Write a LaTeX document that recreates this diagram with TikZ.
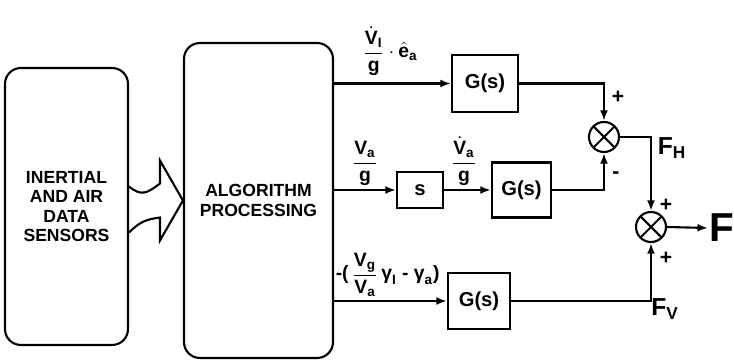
\documentclass[tikz,border=0pt]{standalone}
\usepackage{fontspec}
\setmainfont{Liberation Sans}
\usepackage{amsmath}
\usetikzlibrary{arrows.meta, calc}

\tikzset{
  unit/.style={draw, rounded corners=9pt, align=center, inner sep=0pt, font=\bfseries\fontsize{10}{11}\selectfont},
  blk/.style={draw, inner sep=0pt, font=\bfseries\fontsize{11.5}{13}\selectfont},
  sumj/.style={draw, circle, minimum size=0.6cm, inner sep=0pt,
    path picture={\draw (path picture bounding box.north west) -- (path picture bounding box.south east)
                        (path picture bounding box.north east) -- (path picture bounding box.south west);}},
  sig/.style={-{Latex[length=6pt,width=4.5pt]}},
  lbl/.style={inner sep=1pt, font=\bfseries\fontsize{11}{12}\selectfont},
  sgn/.style={inner sep=0pt, font=\bfseries\fontsize{12}{12}\selectfont},
}

\begin{document}
\begin{tikzpicture}[x=0.02cm, y=-0.02cm, line width=1.2pt]
  \useasboundingbox (0,0) rectangle (734,364);
  % sensors and processing
  \node[unit, minimum width=2.46cm, minimum height=5.54cm] (sen) at (66.5,206.5) {INERTIAL\\AND AIR\\DATA\\SENSORS};
  \node[unit, minimum width=2.98cm, minimum height=6.3cm] (alg) at (258.5,200.5) {ALGORITHM\\PROCESSING};
  \draw ($(sen.east)+(0,-20)$) .. controls ($(sen.east)+(12,-10)$) and ($(sen.east)+(18,-13)$) .. ($(alg.west)+(-23,-17)$)
        -- ($(alg.west)+(-23,-40)$) -- (alg.west) -- ($(alg.west)+(-23,40)$) -- ($(alg.west)+(-23,17)$)
        .. controls ($(sen.east)+(18,13)$) and ($(sen.east)+(12,14)$) .. ($(sen.east)+(0,26)$);

  % blocks
  \node[blk, minimum width=1.32cm, minimum height=1.14cm] (g1) at (485,83.5) {G(s)};
  \node[blk, minimum width=0.92cm, minimum height=0.72cm] (sbox) at (420,190) {s};
  \node[blk, minimum width=1.18cm, minimum height=1.1cm] (g2) at (521.5,190) {G(s)};
  \node[blk, minimum width=1.24cm, minimum height=1.12cm] (g3) at (479,301) {G(s)};
  \node[sumj] (s1) at (604,137) {};
  \node[sumj] (s2) at (651,227) {};
  \node[inner sep=0pt, anchor=west, font=\bfseries\fontsize{23}{23}\selectfont] (out) at (708,228) {F};

  % signals
  \draw[sig] (alg.east |- g1.west) -- (g1.west);
  \draw[sig] (alg.east |- sbox.west) -- (sbox.west);
  \draw[sig] (sbox.east) -- (g2.west);
  \draw[sig] (alg.east |- g3.west) -- (g3.west);
  \draw[sig] (g1.east) -| (s1.north);
  \draw[sig] (g2.east) -| (s1.south);
  \draw[sig] (s1.east) -| (s2.north);
  \draw[sig] (g3.east) -| (s2.south);
  \draw[sig] (s2.east) -- (out.west);

  % labels
  \node[lbl, anchor=south west] (lv) at (360,78) {$\dfrac{\dot{\text{V}}_{\text{I}}}{\text{g}}\cdot\hat{\text{e}}_{\text{a}}$};
  \node[lbl, anchor=south] (lva) at (365,188) {$\dfrac{\text{V}_{\text{a}}}{\text{g}}$};
  \node[lbl, anchor=south] (lvd) at (464,188) {$\dfrac{\dot{\text{V}}_{\text{a}}}{\text{g}}$};
  \node[lbl, anchor=south west] (lgam) at (333,299) {$\text{-(}\,\dfrac{\text{V}_{\text{g}}}{\text{V}_{\text{a}}}\,\text{γ}_{\text{I}}\text{ - }\text{γ}_{\text{a}}\text{)}$};
  \node[sgn] (p1) at (618,97) {+};
  \node[sgn] (m1) at (616,175) {-};
  \node[sgn] (p2) at (666,205) {+};
  \node[sgn] (p3) at (666,258) {+};
  \node[lbl, font=\bfseries\fontsize{14}{14}\selectfont] (fh) at (672,148) {F\textsubscript{H}};
  \node[lbl, font=\bfseries\fontsize{14}{14}\selectfont] (fv) at (665,309) {F\textsubscript{V}};
\end{tikzpicture}
\end{document}
